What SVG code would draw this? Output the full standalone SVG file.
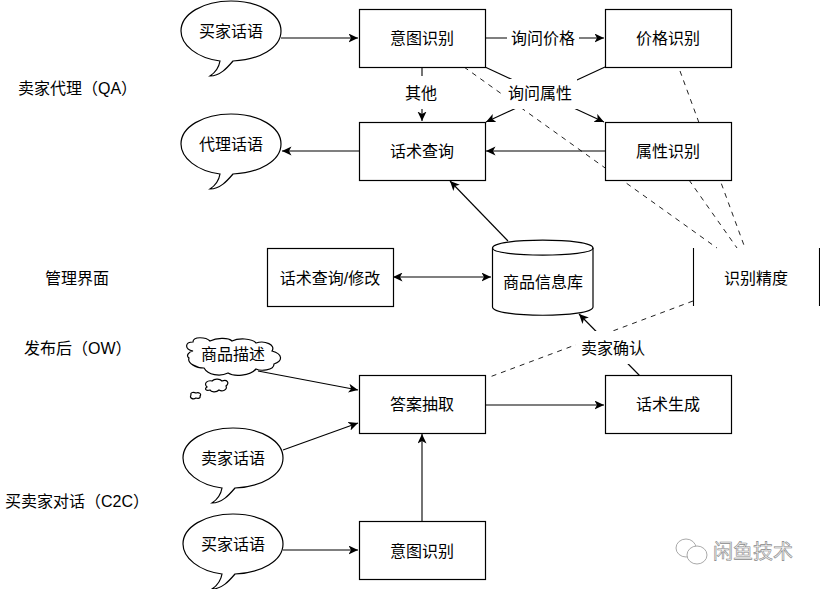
<svg xmlns="http://www.w3.org/2000/svg" width="820" height="589" viewBox="0 0 820 589">
<style>
text{font-family:"Liberation Sans","Noto Sans CJK SC",sans-serif;font-size:16px;fill:#000;text-anchor:middle;dominant-baseline:central}
.l{text-anchor:start}
.b{fill:#fff;stroke:#000;stroke-width:1.2}
.c{fill:none;stroke:#000;stroke-width:1.1}
.a{marker-end:url(#ah)}
.d{fill:none;stroke:#222;stroke-width:1;stroke-dasharray:5 5}
.m{fill:#fff;stroke:none}
.w{fill:#fff;stroke:#aaa;stroke-width:1}
</style>
<defs>
<marker id="ah" markerWidth="11" markerHeight="10" refX="9.5" refY="4.5" orient="auto" markerUnits="userSpaceOnUse"><path d="M0 0L9.5 4.500L0 9L2.500 4.500Z" fill="#000"/></marker>
<marker id="as" markerWidth="11" markerHeight="10" refX="0.5" refY="4.5" orient="auto" markerUnits="userSpaceOnUse"><path d="M10 0L0.500 4.500L10 9L7.500 4.500Z" fill="#000"/></marker>
<path id="bubble" d="M-11 30C-34 27-50 14-50 0C-50-17-28-30 0-30C28-30 50-17 50 0C50 17 28 29 2 30C-4 37-11 45-21 45C-15 41-12 36-11 30Z"/>
</defs>

<g id="connectors">
<path class="d" d="M464 67L717 248"/>
<path class="d" d="M680 71L745 248"/>
<path class="d" d="M689 180L737 248"/>
<path class="d" d="M693 301L487 378"/>
<path class="c a" d="M281 38H358"/>
<path class="c a" d="M485 38H604"/>
<path class="c a" d="M485 67L604 122"/>
<path class="c a" d="M605 67L486 122"/>
<path class="c a" d="M422 67V121"/>
<path class="c a" d="M359 151H282"/>
<path class="c a" d="M605 151H486"/>
<path class="c a" d="M508 241L450 181"/>
<path class="c a" d="M393 277H491" marker-start="url(#as)"/>
<path class="c a" d="M640 376L579 314"/>
<path class="c a" d="M485 405H604"/>
<path class="c a" d="M258 371L358 390"/>
<path class="c a" d="M283 450L358 423"/>
<path class="c a" d="M422 521V434"/>
<path class="c a" d="M283 550H358"/>
<rect class="m" x="507" y="27" width="72" height="22"/>
<rect class="m" x="503" y="79" width="74" height="30"/>
<rect class="m" x="403" y="76" width="38" height="33"/>
<rect class="m" x="576" y="331" width="72" height="33"/>
</g>

<g id="buyer-talk-top"><use href="#bubble" class="b" x="231" y="31"/><text x="231" y="31">买家话语</text></g>
<g id="agent-talk"><use href="#bubble" class="b" x="231" y="144"/><text x="231" y="144">代理话语</text></g>
<g id="seller-talk"><use href="#bubble" class="b" x="233" y="458"/><text x="233" y="458">卖家话语</text></g>
<g id="buyer-talk-bottom"><use href="#bubble" class="b" x="233" y="544"/><text x="233" y="544">买家话语</text></g>

<g id="goods-desc">
<path class="b" transform="translate(0 9)" d="M193 342C184 340 185 333 193 333C193 327 206 328 210 332C216 329 228 328 232 332C238 329 252 329 256 334C265 331 276 336 272 342C283 345 283 352 274 355C274 362 260 362 256 360C250 367 234 368 228 364C220 368 208 366 204 359C196 359 187 354 189 349C186 347 188 343 193 342Z"/>
<path class="b" d="M207 387C203 383 208 380 212 381C215 378 220 379 222 381C227 379 230 383 226 386C228 390 222 392 219 390C216 393 211 392 210 390C206 391 204 389 207 387Z"/>
<path class="b" d="M191 395C190 392 194 392 196 393C199 392 202 394 200 396C201 398 198 399 196 398C193 400 189 398 191 395Z"/>
<text x="233" y="354">商品描述</text>
</g>

<g id="intent-top"><rect class="b" x="359.500" y="9.500" width="126" height="58"/><text x="422" y="38">意图识别</text></g>
<g id="price"><rect class="b" x="605.500" y="9.500" width="126" height="58"/><text x="668" y="38">价格识别</text></g>
<g id="script-query"><rect class="b" x="359.500" y="122.500" width="126" height="58"/><text x="422" y="151">话术查询</text></g>
<g id="attr"><rect class="b" x="605.500" y="122.500" width="126" height="58"/><text x="668" y="151">属性识别</text></g>
<g id="script-edit"><rect class="b" x="267.500" y="248.500" width="126" height="58"/><text x="330" y="278">话术查询/修改</text></g>
<g id="goods-db">
<path class="b" d="M492.500 248C492.500 237.500 593 237.500 593 248V307C593 318 492.500 318 492.500 307Z"/>
<path class="c" d="M492.500 248C492.500 257.500 593 257.500 593 248"/>
<text x="543" y="282">商品信息库</text>
</g>
<g id="accuracy"><path class="c" d="M693.500 248V306M819.500 248V306"/><text x="756" y="278">识别精度</text></g>
<g id="answer"><rect class="b" x="359.500" y="375.500" width="126" height="58"/><text x="422" y="404">答案抽取</text></g>
<g id="script-gen"><rect class="b" x="605.500" y="375.500" width="126" height="58"/><text x="668" y="404">话术生成</text></g>
<g id="intent-bottom"><rect class="b" x="359.500" y="521.500" width="126" height="58"/><text x="422" y="551">意图识别</text></g>

<g id="edge-labels">
<text x="543" y="38">询问价格</text>
<text x="540" y="93">询问属性</text>
<text x="421" y="93">其他</text>
<text x="613" y="348">卖家确认</text>
</g>

<g id="lane-labels">
<text class="l" x="18" y="88">卖家代理（QA）</text>
<text class="l" x="45" y="278">管理界面</text>
<text class="l" x="24" y="348">发布后（OW）</text>
<text class="l" x="5" y="501">买卖家对话（C2C）</text>
</g>

<g id="watermark">
<ellipse class="w" cx="686" cy="548" rx="10" ry="9"/>
<ellipse class="w" cx="697" cy="555" rx="10" ry="9"/>
<text class="l" x="713" y="552" style="font-size:20px;fill:#f4f4f4;stroke:#888;stroke-width:0.6">闲鱼技术</text>
</g>
</svg>
